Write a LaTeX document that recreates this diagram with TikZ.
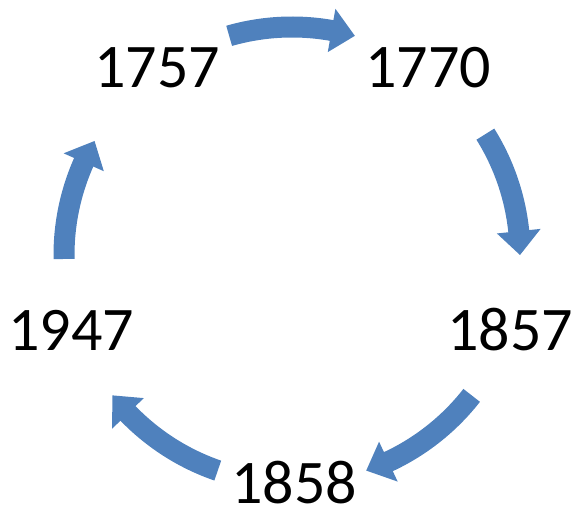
\documentclass[tikz,border=0pt]{standalone}
\usepackage{fontspec}
\setmainfont{Carlito}
\definecolor{accent}{HTML}{4F81BD}
\tikzset{
  year/.style={anchor=base, inner sep=0pt, font=\fontsize{62}{70}\selectfont},
}
% block arc arrow: #1 start angle, #2 end angle (clockwise)
\newcommand{\cyclearrow}[2]{%
  \pgfmathsetmacro{\hb}{#2+6}%
  \fill[accent] (#1:238.5) arc[start angle=#1, end angle=\hb, radius=238.5]
     -- (\hb:250) -- (#2:228) -- (\hb:206) -- (\hb:217.5)
     arc[start angle=\hb, end angle=#1, radius=217.5] -- cycle;}
\begin{document}
\begin{tikzpicture}[x=1pt,y=1pt]
\useasboundingbox (0,0) rectangle (572,512);
\node[year] (a) at (157,424) {1757};
\node[year] (b) at (428,424) {1770};
\node[year] (c) at (510,162) {1857};
\node[year] (d) at (294,9) {1858};
\node[year] (e) at (71,162) {1947};
\begin{scope}[shift={(292,257)}]
\cyclearrow{106}{74}
\cyclearrow{32}{0}
\cyclearrow{-38}{-71}
\cyclearrow{-109}{-142}
\cyclearrow{181}{150}
\end{scope}
\end{tikzpicture}
\end{document}
